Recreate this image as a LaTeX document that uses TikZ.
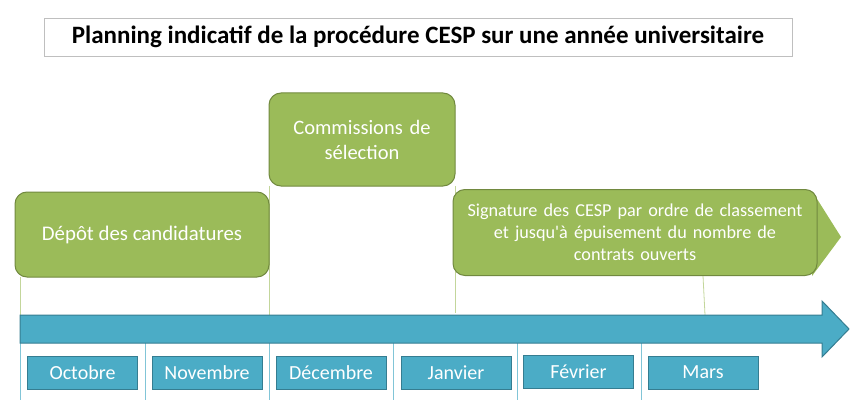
\documentclass[tikz,border=0pt]{standalone}
\usepackage{fontspec}
\setmainfont{Carlito}
\newfontfamily\noligfont{Carlito}[Ligatures=TeXOff]
\begin{document}
\begin{tikzpicture}[x=1pt,y=-1pt,
  gbox/.style={draw=gborder, line width=1pt, fill=gfill, rounded corners=12pt, text=white, align=center, inner sep=0pt},
  mbox/.style={draw=bborder, line width=1pt, fill=bfill, text=white, minimum width=110pt, minimum height=33pt, inner sep=0pt, font=\fontsize{20}{24}\selectfont},
  gline/.style={draw=glight, line width=0.8pt},
  tline/.style={draw=bfill!70, line width=0.7pt}]
\definecolor{gfill}{HTML}{9BBB59}
\definecolor{gborder}{HTML}{71893F}
\definecolor{glight}{HTML}{C3D69B}
\definecolor{bfill}{HTML}{4BACC6}
\definecolor{bborder}{HTML}{357D91}
\useasboundingbox (0,0) rectangle (866,414);
% title
\node[draw=black!25, line width=0.8pt, minimum width=748pt, minimum height=38pt, inner sep=0pt, font=\fontsize{25}{28}\selectfont\bfseries] (title) at (418,37) {Planning indicatif de la procédure CESP sur une année universitaire};
% connectors (green)
\coordinate (a1) at (20,315);
\coordinate (a2) at (269,315);
\coordinate (a3) at (455,313);
\coordinate (a4) at (705,315);
\coordinate (d1) at (20,277);
\coordinate (c1) at (269,186);
\coordinate (c2) at (455,186);
\coordinate (s1) at (703,276);
\draw[gline] (d1) -- (a1);
\draw[gline] (c1) -- (a2);
\draw[gline] (c2) -- (a3);
\draw[gline] (s1) -- (a4);
% ticks
\foreach \x/\n in {20/t0,145/t1,269/t2,393/t3,517/t4,641/t5}{
  \coordinate (\n a) at (\x,343);
  \coordinate (\n b) at (\x,400);
  \draw[tline] (\n a) -- (\n b);
}
% arrow
\draw[draw=bborder, fill=bfill, line width=1pt, line join=miter]
  (20,315) -- (822,315) -- (822,301) -- (849,329) -- (822,357) -- (822,343) -- (20,343) -- cycle;
% green boxes
\node[gbox, minimum width=254pt, minimum height=85pt, font=\fontsize{20.8}{24}\selectfont] (dep) at (142,234.5) {\raisebox{-3pt}{Dépôt des candidatures}};
\node[gbox, minimum width=186pt, minimum height=93pt, text width=180pt, font=\fontsize{20.5}{25}\selectfont] (com) at (362,139.5) {Commissions de\\sélection};
\fill[gfill] (812,191) -- (841,237) -- (812,276) -- cycle;
\node[gbox, minimum width=364pt, minimum height=86pt, text width=360pt, font=\fontsize{18.2}{22}\selectfont] (sig) at (635,232.5) {Signature des CESP par ordre de classement\\et jusqu{\noligfont'}à épuisement du nombre de\\contrats ouverts};
% months
\node[mbox] (oct) at (82.5,372.5) {Octobre};
\node[mbox] (nov) at (207,372.5) {Novembre};
\node[mbox] (dec) at (331,372.5) {Décembre};
\node[mbox] (jan) at (456,372.5) {Janvier};
\node[mbox] (fev) at (578.5,371.5) {Février};
\node[mbox] (mar) at (703,372.5) {Mars};
\end{tikzpicture}
\end{document}
